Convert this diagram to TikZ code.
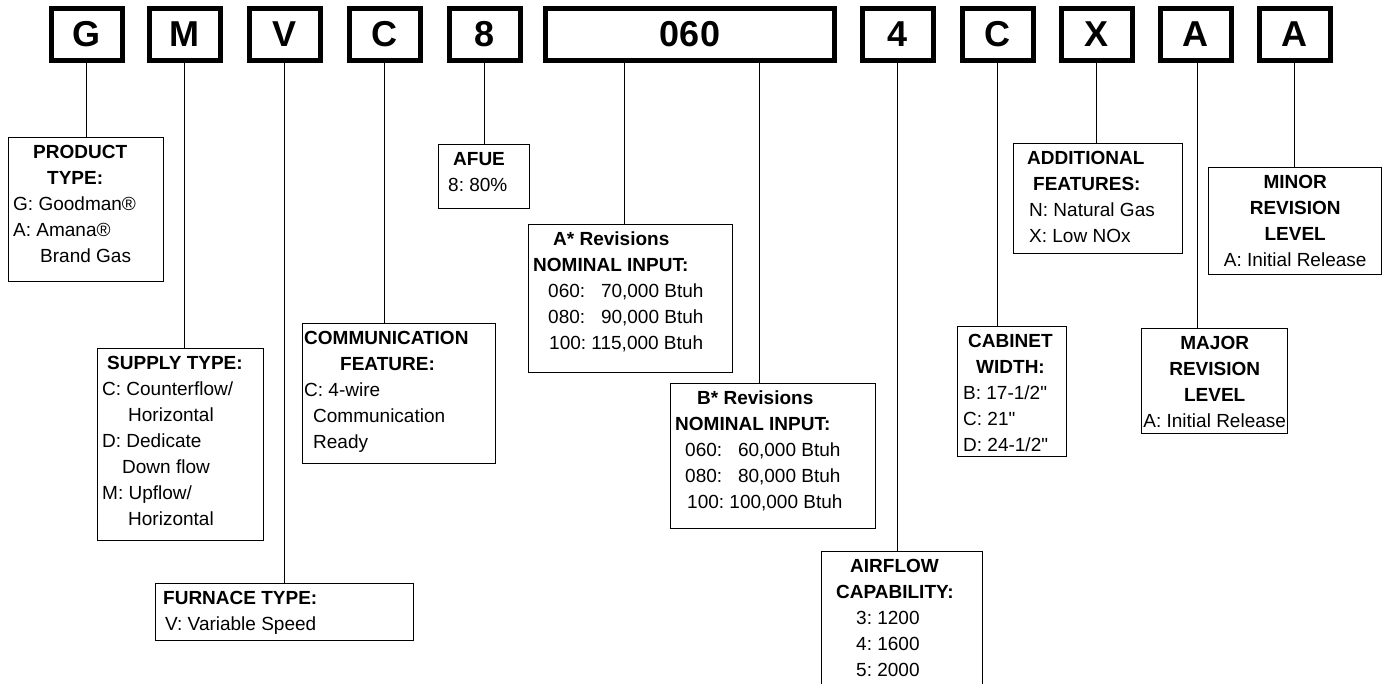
\documentclass[tikz,border=0pt]{standalone}
\usepackage{fontspec}
\setmainfont{Liberation Sans}[Ligatures=TeXOff]
\frenchspacing

\begin{document}
\begin{tikzpicture}[x=1pt,y=-1pt]
\tikzstyle{letter}=[draw,line width=5pt,minimum width=71pt,minimum height=52pt,inner sep=0pt,font=\fontsize{36}{36}\selectfont\bfseries]
\tikzstyle{lbox}=[draw,line width=1.4pt,anchor=north west,inner sep=0pt]
\tikzstyle{txt}=[anchor=north west,inner sep=0pt,align=left,font=\fontsize{19}{26}\selectfont]
\tikzstyle{ctxt}=[anchor=north,inner sep=0pt,align=center,font=\fontsize{19}{26}\selectfont]
\tikzstyle{link}=[draw,line width=1.2pt]
    \clip (0,0) rectangle (1384,683);
    % model number characters
    \node[letter] (g) at (86.5,34.5) {G};
    \node[letter] (m) at (184.5,34.5) {M};
    \node[letter] (v) at (284.5,34.5) {V};
    \node[letter] (c) at (384.5,34.5) {C};
    \node[letter] (afu) at (484.5,34.5) {8};
    \node[letter,minimum width=289pt] (inp) at (690,34.5) {060};
    \node[letter] (air) at (897.5,34.5) {4};
    \node[letter] (cab) at (997.5,34.5) {C};
    \node[letter] (x) at (1096.5,34.5) {X};
    \node[letter] (maj) at (1195.5,34.5) {A};
    \node[letter] (min) at (1294.5,34.5) {A};
    % description boxes
    \node[lbox,minimum width=155pt,minimum height=144pt] (ptype) at (8,137) {};
    \node[lbox,minimum width=166pt,minimum height=192pt] (stype) at (97,348) {};
    \node[lbox,minimum width=258pt,minimum height=57pt] (ftype) at (155,583) {};
    \node[lbox,minimum width=193pt,minimum height=140pt] (comm) at (302,323) {};
    \node[lbox,minimum width=91pt,minimum height=64pt] (afue) at (438,144) {};
    \node[lbox,minimum width=204pt,minimum height=148pt] (arev) at (528,224) {};
    \node[lbox,minimum width=205pt,minimum height=145pt] (brev) at (670,383) {};
    \node[lbox,minimum width=161pt,minimum height=150pt] (airflow) at (821,551) {};
    \node[lbox,minimum width=109pt,minimum height=130pt] (cabinet) at (957,326) {};
    \node[lbox,minimum width=169pt,minimum height=110pt] (addl) at (1013,143) {};
    \node[lbox,minimum width=146pt,minimum height=105pt] (major) at (1141,328) {};
    \node[lbox,minimum width=173pt,minimum height=107pt] (minor) at (1208,167) {};
    % texts
    \node[txt] (ptypet) at ([xshift=5pt,yshift=-8pt]ptype.north west)
      {\hspace*{20pt}\textbf{PRODUCT}\\\hspace*{34pt}\textbf{TYPE:}\\G: Goodman®\\A: Amana®\\\hspace*{27pt}Brand Gas};
    \node[txt] (stypet) at ([xshift=5pt,yshift=-8pt]stype.north west)
      {\hspace*{5pt}\textbf{SUPPLY TYPE:}\\C: Counterflow/\\\hspace*{26pt}Horizontal\\D: Dedicate\\\hspace*{20pt}Down flow\\M: Upflow/\\\hspace*{26pt}Horizontal};
    \node[txt] (ftypet) at ([xshift=8pt,yshift=-8pt]ftype.north west)
      {\textbf{FURNACE TYPE:}\\\hspace*{2pt}V: Variable Speed};
    \node[txt] (commt) at ([xshift=2pt,yshift=-8pt]comm.north west)
      {\textbf{COMMUNICATION}\\\hspace*{36pt}\textbf{FEATURE:}\\C: 4-wire\\\hspace*{9pt}Communication\\\hspace*{9pt}Ready};
    \node[txt] (afuet) at ([xshift=10pt,yshift=-8pt]afue.north west)
      {\hspace*{5pt}\textbf{AFUE}\\8: 80\%};
    \node[txt] (arevt) at ([xshift=5pt,yshift=-8pt]arev.north west)
      {\hspace*{20pt}\textbf{A* Revisions}\\\textbf{NOMINAL INPUT:}\\\hspace*{15pt}060: \hphantom{1}70,000 Btuh\\\hspace*{15pt}080: \hphantom{1}90,000 Btuh\\\hspace*{16pt}100: 115,000 Btuh};
    \node[txt] (brevt) at ([xshift=5pt,yshift=-8pt]brev.north west)
      {\hspace*{22pt}\textbf{B* Revisions}\\\textbf{NOMINAL INPUT:}\\\hspace*{10pt}060: \hphantom{1}60,000 Btuh\\\hspace*{10pt}080: \hphantom{1}80,000 Btuh\\\hspace*{12pt}100: 100,000 Btuh};
    \node[txt] (airflowt) at ([xshift=15pt,yshift=-8pt]airflow.north west)
      {\hspace*{14pt}\textbf{AIRFLOW}\\\textbf{CAPABILITY:}\\\hspace*{20pt}3: 1200\\\hspace*{20pt}4: 1600\\\hspace*{20pt}5: 2000};
    \node[txt] (cabinett) at ([xshift=6pt,yshift=-8pt]cabinet.north west)
      {\hspace*{5pt}\textbf{CABINET}\\\hspace*{13pt}\textbf{WIDTH:}\\B: 17-1/2"\\C: 21"\\D: 24-1/2"};
    \node[txt] (addlt) at ([xshift=14pt,yshift=-8pt]addl.north west)
      {\textbf{ADDITIONAL}\\\hspace*{6pt}\textbf{FEATURES:}\\\hspace*{2pt}N: Natural Gas\\\hspace*{2pt}X: Low NOx};
    \node[ctxt] (majort) at ([yshift=-8pt]major.north)
      {\textbf{MAJOR}\\\textbf{REVISION}\\\textbf{LEVEL}\\A: Initial Release};
    \node[ctxt] (minort) at ([yshift=-8pt]minor.north)
      {\textbf{MINOR}\\\textbf{REVISION}\\\textbf{LEVEL}\\A: Initial Release};
    % connectors
    \coordinate (inpa) at ([xshift=-65.5pt]inp.south);
    \coordinate (inpb) at ([xshift=69.5pt]inp.south);
    \coordinate (majl) at ([xshift=2pt]maj.south);
    \path[link] (g.south) -- (g.south |- ptype.north);
    \path[link] (m.south) -- (m.south |- stype.north);
    \path[link] (v.south) -- (v.south |- ftype.north);
    \path[link] (c.south) -- (c.south |- comm.north);
    \path[link] (afu.south) -- (afu.south |- afue.north);
    \path[link] (inpa) -- (inpa |- arev.north);
    \path[link] (inpb) -- (inpb |- brev.north);
    \path[link] (air.south) -- (air.south |- airflow.north);
    \path[link] (cab.south) -- (cab.south |- cabinet.north);
    \path[link] (x.south) -- (x.south |- addl.north);
    \path[link] (majl) -- (majl |- major.north);
    \path[link] (min.south) -- (min.south |- minor.north);
\end{tikzpicture}
\end{document}
